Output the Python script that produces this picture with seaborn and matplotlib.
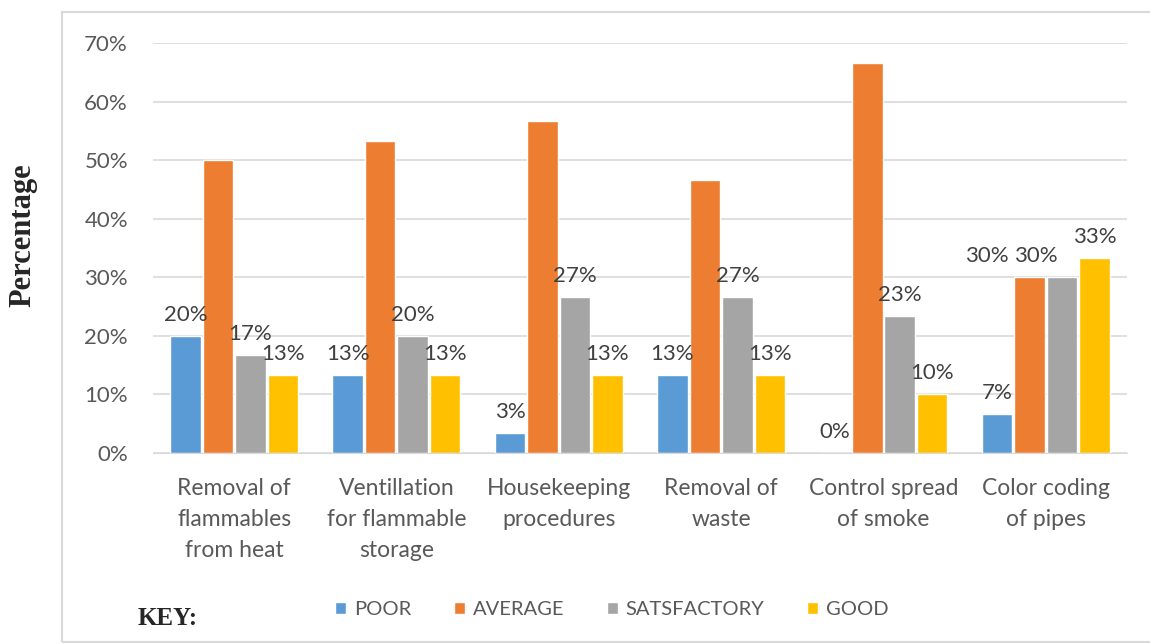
import pandas as pd
import numpy as np
import matplotlib.pyplot as plt
import seaborn as sns
from matplotlib.patches import Rectangle, Patch
from matplotlib.ticker import FuncFormatter

categories = ['Removal of\nflammables\nfrom heat', 'Ventillation\nfor flammable\nstorage',
              'Housekeeping\nprocedures', 'Removal of\nwaste', 'Control spread\nof smoke',
              'Color coding\nof pipes']
ratings = ['POOR', 'AVERAGE', 'SATSFACTORY', 'GOOD']
poor = [20, 13.33, 3.33, 13.33, 0, 6.67]
average = [50, 53.33, 56.67, 46.67, 66.67, 30]
satisfactory = [16.67, 20, 26.67, 26.67, 23.33, 30]
good = [13.33, 13.33, 13.33, 13.33, 10, 33.33]
# only the last AVERAGE bar carries a visible label in the source
show_labels = {'POOR': [1] * 6, 'AVERAGE': [0, 0, 0, 0, 0, 1],
               'SATSFACTORY': [1] * 6, 'GOOD': [1] * 6}
colors = ['#5B9BD5', '#ED7D31', '#A5A5A5', '#FFC000']

rows = []
for r, vals in zip(ratings, [poor, average, satisfactory, good]):
    for c, v in zip(categories, vals):
        rows.append({'Category': c, 'Rating': r, 'Value': v})
df = pd.DataFrame(rows)

sns.set_style('white')
plt.rcParams['font.family'] = ['Lato', 'DejaVu Sans']

fig = plt.figure(figsize=(11.5, 6.44), dpi=100)
ax = fig.add_axes([0.133, 0.2966, 0.847, 0.6366])

sns.barplot(data=df, x='Category', y='Value', hue='Rating', hue_order=ratings,
            palette=colors, saturation=1, width=0.8, gap=0.06, ax=ax, legend=False)

ax.set_ylim(0, 70)
ax.set_yticks(np.arange(0, 71, 10))
ax.yaxis.set_major_formatter(FuncFormatter(lambda v, p: f'{int(v)}%'))
ax.grid(axis='y', color='#D9D9D9', linewidth=1.2)
ax.set_axisbelow(True)
for s in ['top', 'right', 'left']:
    ax.spines[s].set_visible(False)
ax.spines['bottom'].set_color('#D9D9D9')
ax.tick_params(axis='both', length=0, colors='#595959')
ax.tick_params(axis='y', pad=18, labelsize=16)
ax.tick_params(axis='x', pad=18, labelsize=16.5)
for t in ax.get_xticklabels():
    t.set_linespacing(1.6)
ax.set_xlabel('')
ax.set_ylabel('')

for cont, r in zip(ax.containers, ratings):
    vals = dict(POOR=poor, AVERAGE=average, SATSFACTORY=satisfactory, GOOD=good)[r]
    labs = [f'{round(v)}%' if s else '' for v, s in zip(vals, show_labels[r])]
    anns = ax.bar_label(cont, labels=labs, padding=8, fontsize=16, color='#404040')
    # Excel pushed the two touching 30% labels apart, to the left
    if r == 'AVERAGE':
        anns[5].xyann = (-31, 8)
    if r == 'SATSFACTORY':
        anns[5].xyann = (-19, 8)

fig.text(0.0196, 0.635, 'Percentage', rotation=90, ha='center', va='center',
         fontsize=22, fontweight='bold', family='Liberation Serif')
fig.text(0.12, 0.04, 'KEY:', ha='left', va='center', fontsize=18,
         fontweight='bold', family='Liberation Serif')

handles = [Patch(facecolor=c, label=r) for c, r in zip(colors, ratings)]
fig.legend(handles=handles, loc='center', bbox_to_anchor=(0.532, 0.054), ncol=4,
           frameon=False, fontsize=14.5, handlelength=0.55, handleheight=0.55,
           handletextpad=0.4, columnspacing=2.1, labelcolor='#595959')

fig.patches.append(Rectangle((0.054, 0.003), 1.0, 0.978, transform=fig.transFigure,
                             fill=False, edgecolor='#D9D9D9', linewidth=1.5))

fig.savefig('out.png', dpi=100)
